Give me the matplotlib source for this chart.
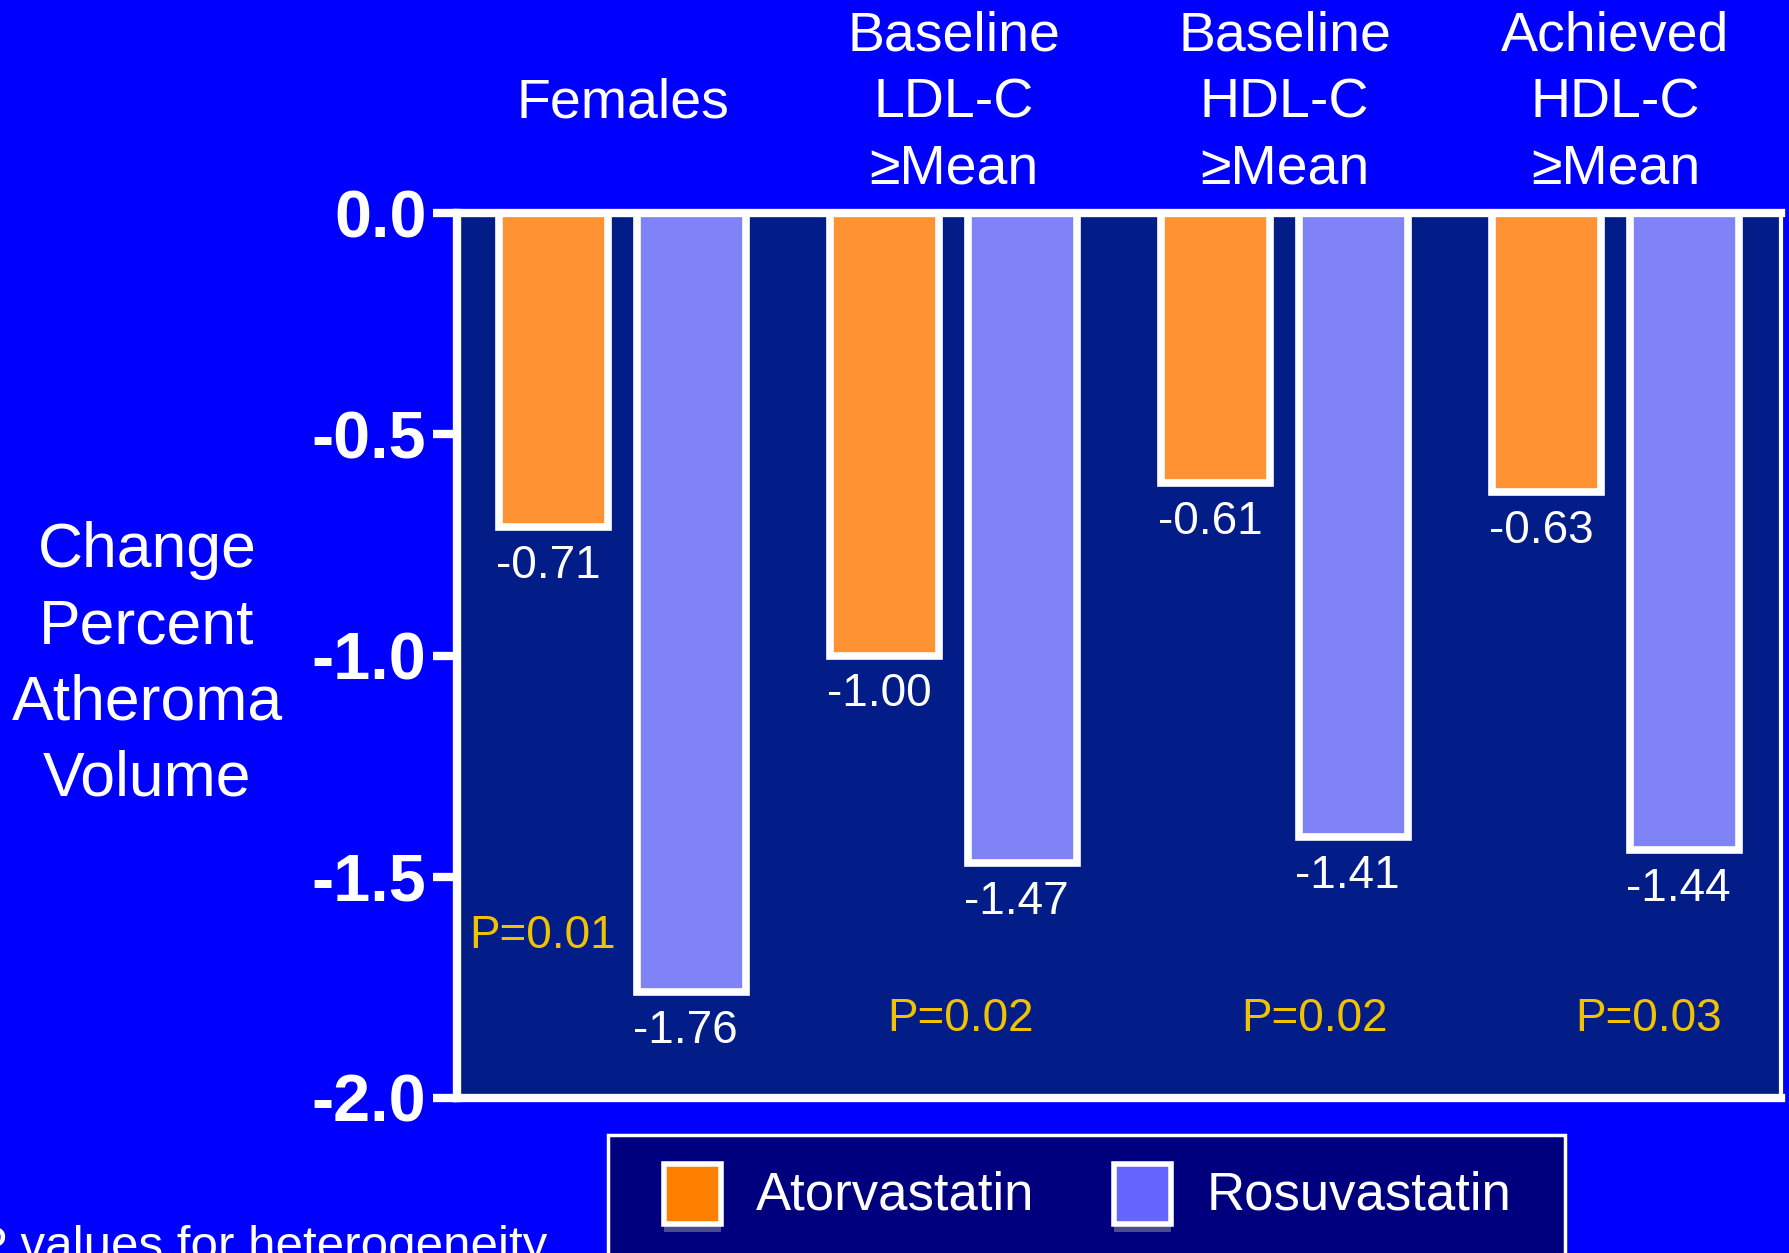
import matplotlib.pyplot as plt
from matplotlib.patches import Rectangle
from matplotlib.transforms import blended_transform_factory
import numpy as np

plt.rcParams['font.family'] = ['Liberation Sans', 'DejaVu Sans']

# datos
grupos = ["Females", "Baseline\nLDL-C\n\u2265Mean", "Baseline\nHDL-C\n\u2265Mean", "Achieved\nHDL-C\n\u2265Mean"]
series = ["Atorvastatin", "Rosuvastatin"]
atorva = [-0.71, -1.00, -0.61, -0.63]
rosuva = [-1.76, -1.47, -1.41, -1.44]
p_vals = ["P=0.01", "P=0.02", "P=0.02", "P=0.03"]
yticks = [0.0, -0.5, -1.0, -1.5, -2.0]

fondo = "#0000FF"
panel = "#031D88"
naranja = "#FF9233"
morado = "#7F83F5"
dorado = "#F2C200"

fig = plt.figure(figsize=(17.9, 12.53), dpi=100)
fig.patch.set_facecolor(fondo)
ax = fig.add_axes([457/1790, 1-1098/1253, (1781-457)/1790, (1098-213)/1253])
ax.set_facecolor(panel)

x = np.arange(len(grupos))
d = 0.208
w = 0.33
ax.bar(x-d, atorva, w, color=naranja, edgecolor="white", linewidth=5.5, zorder=2)
ax.bar(x+d, rosuva, w, color=morado, edgecolor="white", linewidth=5.5, zorder=2)

ax.set_xlim(-0.5, 3.5)
ax.set_ylim(-2.0, 0.0)
ax.set_xticks([])
ax.set_yticks(yticks)
ax.set_yticklabels([f"{v:.1f}" for v in yticks], fontsize=48, fontweight="bold", color="white")
ax.tick_params(axis="y", length=17, width=6, color="white", pad=5)
for s in ax.spines.values():
     s.set_color("white")
     s.set_linewidth(6)
     s.set_zorder(3)
ax.spines["right"].set_linewidth(3)

# etiquetas de valores
for xs, vals in ((x-d, atorva), (x+d, rosuva)):
     for xi, v in zip(xs, vals):
          ax.annotate(f"{v:.2f}", (xi, v), xytext=(-4, -28), textcoords="offset points",
                      ha="center", va="center", fontsize=33, color="white")

# valores P
p_x = [-0.24, 1.02, 2.09, 3.10]
p_y = [-1.634, -1.821, -1.821, -1.821]
for t, px, py in zip(p_vals, p_x, p_y):
     ax.text(px, py, t, ha="center", va="center", fontsize=33, color=dorado)

# titulos de grupo
tr = blended_transform_factory(ax.transData, fig.transFigure)
for xi, g in zip(x, grupos):
     ax.text(xi, 1-103/1253, g, transform=tr, ha="center", va="center",
             fontsize=40, color="white", linespacing=1.36)

fig.text(147/1790, 1-665/1253, "Change\nPercent\nAtheroma\nVolume", ha="center", va="center",
         fontsize=45, color="white", linespacing=1.37)

# leyenda
fig.patches.append(Rectangle((608/1790, -0.05), (1565-608)/1790, 0.05+1-1135/1253,
                             transform=fig.transFigure, facecolor="#00007F", edgecolor="white",
                             linewidth=2.5, zorder=1))
leg_col = ["#FF8000", "#6666FF"]
leg_x = [664, 1114]
txt_x = [756, 1207]
for nom, c, lx, tx in zip(series, leg_col, leg_x, txt_x):
     fig.patches.append(Rectangle((lx/1790, 1-1232/1253), 57/1790, 8/1253, transform=fig.transFigure,
                                  facecolor="#4B4B90", edgecolor="none", zorder=2))
     fig.patches.append(Rectangle((lx/1790, 1-1224/1253), 57/1790, 60/1253, transform=fig.transFigure,
                                  facecolor=c, edgecolor="white", linewidth=4, zorder=3))
     fig.text(tx/1790, 1-1195/1253, nom, ha="left", va="center", fontsize=38, color="white", zorder=4)

fig.text(-25/1790, 1-1260/1253, "P values for heterogeneity", ha="left", va="baseline",
         fontsize=35.5, color="white")

fig.savefig("out.png", dpi=100, facecolor=fondo)
